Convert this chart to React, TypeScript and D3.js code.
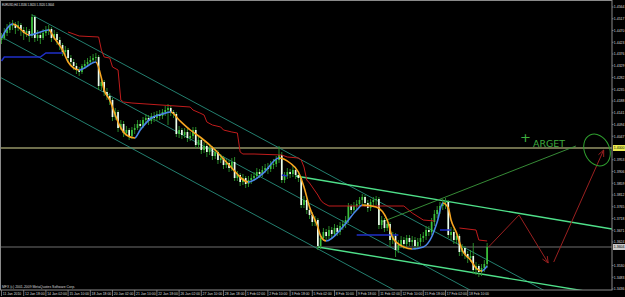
import React from 'react';
import * as d3 from 'd3';

// ---------------- data ----------------
const chartTitle = 'EURUSD,H4  1.3536 1.3620 1.3520 1.3604';
const copyrightText = 'MFX (c) 2001-2009 MetaQuotes Software Corp.';

const firstOpen = 1.4432;
const close = [
  1.4440,1.4460,1.4472,1.4488,1.4496,1.4480,1.4492,1.4472,1.4460,1.4468,
  1.4448,1.4524,1.4440,1.4452,1.4440,1.4460,1.4472,1.4476,1.4440,1.4456,
  1.4432,1.4412,1.4384,1.4392,1.4360,1.4344,1.4328,1.4312,1.4304,1.4328,
  1.4336,1.4344,1.4352,1.4360,1.4364,1.4248,1.4264,1.4224,1.4208,1.4192,
  1.4124,1.4144,1.4080,1.4096,1.4060,1.4072,1.4048,1.4072,1.4080,1.4096,
  1.4088,1.4112,1.4120,1.4108,1.4128,1.4120,1.4136,1.4128,1.4144,1.4152,
  1.4160,1.4144,1.4136,1.4056,1.4072,1.4052,1.4064,1.4040,1.4048,1.4072,
  1.4012,1.4032,1.3992,1.4008,1.3984,1.4000,1.3968,1.3984,1.3952,1.3960,
  1.3932,1.3940,1.3920,1.3944,1.3880,1.3892,1.3864,1.3880,1.3856,1.3872,
  1.3880,1.3888,1.3904,1.3896,1.3912,1.3920,1.3916,1.3932,1.3936,1.3952,
  1.3972,1.3872,1.3888,1.3904,1.3896,1.3912,1.3892,1.3880,1.3772,1.3792,
  1.3752,1.3732,1.3704,1.3712,1.3608,1.3640,1.3664,1.3648,1.3672,1.3656,
  1.3680,1.3664,1.3688,1.3696,1.3712,1.3768,1.3752,1.3768,1.3776,1.3792,
  1.3804,1.3780,1.3760,1.3784,1.3792,1.3796,1.3692,1.3712,1.3680,1.3696,
  1.3632,1.3648,1.3592,1.3612,1.3632,1.3616,1.3640,1.3624,1.3632,1.3608,
  1.3624,1.3640,1.3648,1.3672,1.3664,1.3704,1.3736,1.3752,1.3768,1.3780,
  1.3784,1.3652,1.3664,1.3632,1.3648,1.3584,1.3600,1.3576,1.3560,1.3568,
  1.3512,1.3528,1.3504,1.3520,1.3536,1.3604,
];
const high = [
  1.4460,1.4480,1.4496,1.4504,1.4512,1.4504,1.4508,1.4500,1.4484,1.4484,
  1.4476,1.4536,1.4532,1.4472,1.4464,1.4476,1.4488,1.4492,1.4484,1.4472,
  1.4464,1.4444,1.4420,1.4408,1.4400,1.4372,1.4356,1.4340,1.4324,1.4336,
  1.4352,1.4360,1.4368,1.4376,1.4380,1.4372,1.4280,1.4272,1.4240,1.4220,
  1.4200,1.4160,1.4152,1.4112,1.4108,1.4088,1.4080,1.4084,1.4096,1.4112,
  1.4112,1.4124,1.4136,1.4132,1.4140,1.4144,1.4148,1.4152,1.4156,1.4168,
  1.4176,1.4168,1.4152,1.4144,1.4088,1.4080,1.4080,1.4076,1.4064,1.4084,
  1.4084,1.4048,1.4040,1.4024,1.4016,1.4016,1.4008,1.4000,1.3992,1.3976,
  1.3968,1.3956,1.3952,1.3960,1.3964,1.3908,1.3900,1.3896,1.3888,1.3888,
  1.3896,1.3904,1.3920,1.3916,1.3928,1.3936,1.3940,1.3948,1.3956,1.3968,
  1.4008,1.3984,1.3904,1.3920,1.3916,1.3928,1.3920,1.3904,1.3888,1.3808,
  1.3800,1.3768,1.3744,1.3728,1.3720,1.3656,1.3680,1.3676,1.3688,1.3684,
  1.3696,1.3692,1.3704,1.3712,1.3728,1.3780,1.3776,1.3784,1.3792,1.3804,
  1.3816,1.3812,1.3792,1.3796,1.3804,1.3808,1.3804,1.3728,1.3720,1.3712,
  1.3704,1.3664,1.3660,1.3632,1.3648,1.3644,1.3652,1.3652,1.3648,1.3644,
  1.3640,1.3656,1.3664,1.3688,1.3688,1.3720,1.3752,1.3768,1.3784,1.3796,
  1.3800,1.3792,1.3684,1.3676,1.3664,1.3656,1.3616,1.3608,1.3588,1.3592,
  1.3620,1.3544,1.3536,1.3536,1.3552,1.3620,
];
const low = [
  1.4416,1.4432,1.4448,1.4460,1.4472,1.4456,1.4468,1.4448,1.4432,1.4444,
  1.4424,1.4440,1.4424,1.4428,1.4416,1.4432,1.4448,1.4452,1.4424,1.4432,
  1.4412,1.4392,1.4368,1.4372,1.4344,1.4328,1.4312,1.4296,1.4288,1.4296,
  1.4316,1.4324,1.4332,1.4340,1.4348,1.4232,1.4232,1.4208,1.4192,1.4172,
  1.4108,1.4112,1.4064,1.4072,1.4044,1.4048,1.4032,1.4036,1.4056,1.4072,
  1.4072,1.4080,1.4100,1.4092,1.4096,1.4104,1.4108,1.4112,1.4116,1.4128,
  1.4092,1.4128,1.4120,1.4044,1.4040,1.4036,1.4040,1.4024,1.4028,1.4036,
  1.4000,1.4000,1.3976,1.3980,1.3964,1.3972,1.3952,1.3956,1.3936,1.3940,
  1.3916,1.3920,1.3904,1.3908,1.3868,1.3868,1.3848,1.3852,1.3840,1.3844,
  1.3856,1.3868,1.3876,1.3880,1.3884,1.3900,1.3896,1.3904,1.3916,1.3924,
  1.3940,1.3860,1.3860,1.3876,1.3880,1.3884,1.3876,1.3864,1.3760,1.3760,
  1.3736,1.3716,1.3688,1.3688,1.3592,1.3596,1.3628,1.3632,1.3636,1.3640,
  1.3644,1.3648,1.3652,1.3672,1.3680,1.3700,1.3736,1.3740,1.3752,1.3764,
  1.3776,1.3764,1.3744,1.3748,1.3768,1.3772,1.3676,1.3676,1.3664,1.3668,
  1.3604,1.3616,1.3564,1.3580,1.3600,1.3596,1.3604,1.3608,1.3608,1.3592,
  1.3596,1.3608,1.3624,1.3632,1.3648,1.3652,1.3688,1.3720,1.3736,1.3752,
  1.3756,1.3640,1.3632,1.3616,1.3616,1.3568,1.3568,1.3556,1.3540,1.3544,
  1.3496,1.3492,1.3484,1.3488,1.3504,1.3520,
];

const timeLabels = [
  '11 Jan 2010','12 Jan 18:00','14 Jan 02:00','15 Jan 10:00','18 Jan 18:00','20 Jan 02:00',
  '21 Jan 10:00','22 Jan 18:00','26 Jan 02:00','27 Jan 10:00','28 Jan 18:00','1 Feb 02:00',
  '2 Feb 10:00','3 Feb 18:00','5 Feb 02:00','8 Feb 10:00','9 Feb 18:00','11 Feb 02:00',
  '12 Feb 10:00','15 Feb 18:00','17 Feb 02:00','18 Feb 10:00',
];
const barsPerTimeLabel = 8;

const priceLabels = [
  1.4564,1.4517,1.4470,1.4423,1.4376,1.4329,1.4282,1.4235,1.4188,1.4141,1.4094,1.4047,
  1.3953,1.3906,1.3859,1.3812,1.3765,1.3718,1.3671,1.3624,1.3530,1.3483,1.3436,
];
const targetLevel = 1.4000;
const bidPrice = 1.3604;

// smoothed moving average (bar index, price)
const maPoints: [number, number][] = [
  [0,1.4440],[4,1.4496],[10,1.4452],[17,1.4472],[19,1.4440],[22,1.4392],[24,1.4344],[26,1.4320],
  [28,1.4312],[34,1.4344],[36,1.4280],[37,1.4232],[39,1.4192],[41,1.4132],[43,1.4080],[45,1.4052],
  [48,1.4040],[50,1.4072],[54,1.4120],[58,1.4136],[61,1.4144],[64,1.4112],[68,1.4072],[72,1.4040],
  [77,1.3992],[82,1.3932],[89,1.3864],[94,1.3896],[100,1.3960],[104,1.3940],[107,1.3904],[109,1.3844],
  [111,1.3764],[114,1.3684],[115,1.3648],[117,1.3628],[123,1.3684],[128,1.3752],[130,1.3772],[135,1.3764],
  [139,1.3712],[141,1.3640],[145,1.3604],[148,1.3596],[152,1.3604],[155,1.3644],[157,1.3704],[159,1.3780],
  [161,1.3760],[162,1.3712],[164,1.3660],[166,1.3592],[169,1.3552],[171,1.3520],[173,1.3508],[175,1.3528],
];

// upper stop line (red)
const redSegments: [number, number][][] = [
  [[24,1.4464],[28,1.4448],[35,1.4444],[36,1.4392],[37,1.4364],[39,1.4360],[40,1.4324],[42,1.4312],
   [43,1.4192],[44,1.4184],[47,1.4180],[68,1.4164],[69,1.4152],[71.5,1.4140],[73,1.4132],[74,1.4104],
   [76,1.4092],[79,1.4084],[80,1.4072],[83,1.4064],[85,1.4060],[86,1.3984],[87,1.3976],[91,1.3976],
   [101,1.3972],[103,1.3964],[107,1.3960],[108,1.3952],[109,1.3924],[110,1.3872],[111,1.3860],[114,1.3812],
   [115,1.3792],[116,1.3780],[118,1.3768],[145,1.3768],[148,1.3740],[152,1.3712],[156,1.3708]],
  [[165,1.3680],[171,1.3672],[172,1.3632],[175,1.3628]],
];
// lower stop line (dark blue)
const blueSegments: [number, number][][] = [
  [[0,1.4348],[1,1.4364],[14,1.4364],[16,1.4380],[22,1.4380]],
  [[101,1.3892],[103,1.3888]],
  [[128,1.3652],[143,1.3652]],
  [[158,1.3672],[162,1.3672]],
];

// channel lines: [bar1, price1, bar2, price2]
const channelLines: [number, number, number, number][] = [
  [11, 1.4532, 220, 1.3284],
  [-1, 1.4450, 220, 1.3125],
  [-1, 1.4286, 220, 1.2961],
];
const trendLines: [number, number, number, number][] = [
  [106, 1.3888, 220, 1.3676],
  [114, 1.3604, 220, 1.3410],
];
const targetRay: [number, number, number, number] = [137, 1.3704, 207, 1.4008];
const forecastLegs: [number, number][][] = [
  [[175.5,1.3604],[186.5,1.3732],[197,1.3540]],
  [[199,1.3544],[217,1.3992]],
];
const targetCircleCenter: [number, number] = [214.6, 1.3992];
const noteMark = '+';
const noteText = 'ARGET';
const noteAnchor: [number, number] = [186.5, 1.4020];

// ---------------- chart ----------------
const W = 625;
const H = 297;
const PLOT_R = 612;
const PLOT_B = 290;

const BLUE = '#4a86e8';
const ORANGE = '#f7a520';

function arrowHead(x1: number, y1: number, x2: number, y2: number, len = 7, ang = 0.42) {
  const a = Math.atan2(y2 - y1, x2 - x1);
  return `M${x2 - len * Math.cos(a - ang)},${y2 - len * Math.sin(a - ang)}L${x2},${y2}L${x2 - len * Math.cos(a + ang)},${y2 - len * Math.sin(a + ang)}`;
}

export default function App() {
  const x = d3.scaleLinear().domain([0, 220]).range([1.5, PLOT_R]);
  const y = d3.scaleLinear().domain([1.4592, 1.3404]).range([0, 297]);
  const open = close.map((_, i) => (i === 0 ? firstOpen : close[i - 1]));

  const line = d3.line<[number, number]>().x(d => x(d[0])).y(d => y(d[1]));
  const maLine = d3.line<[number, number]>().x(d => x(d[0])).y(d => y(d[1])).curve(d3.curveMonotoneX);

  const stops: { off: number; c: string }[] = [];
  for (let j = 0; j < maPoints.length - 1; j++) {
    const c = maPoints[j + 1][1] >= maPoints[j][1] ? BLUE : ORANGE;
    stops.push({ off: x(maPoints[j][0]) / W, c }, { off: x(maPoints[j + 1][0]) / W, c });
  }

  const fmt = d3.format('.4f');
  const bw = 1.7;
  const axisFont = 'Liberation Sans, Arial, sans-serif';
  const noteFont = 'DejaVu Sans, sans-serif';

  return (
    <svg width={W} height={H} style={{ position: 'fixed', left: 0, top: 0, background: '#000' }}>
      <defs>
        <clipPath id="plot">
          <rect x={0} y={0} width={PLOT_R} height={PLOT_B} />
        </clipPath>
        <linearGradient id="maGrad" gradientUnits="userSpaceOnUse" x1={0} y1={0} x2={W} y2={0}>
          {stops.map((s, k) => (
            <stop key={k} offset={s.off} stopColor={s.c} />
          ))}
        </linearGradient>
      </defs>
      <rect x={0} y={0} width={W} height={H} fill="#000" />

      <g clipPath="url(#plot)">
        {/* horizontal level lines */}
        <line x1={0} x2={PLOT_R} y1={y(targetLevel)} y2={y(targetLevel)} stroke="#dcdc98" strokeWidth={1} />
        <line x1={0} x2={PLOT_R} y1={y(bidPrice)} y2={y(bidPrice)} stroke="#6e6e6e" strokeWidth={1} />

        {/* channel lines */}
        {channelLines.map((l, k) => (
          <line key={k} x1={x(l[0])} y1={y(l[1])} x2={x(l[2])} y2={y(l[3])} stroke="#2c9f8c" strokeWidth={0.8} />
        ))}
        {/* trend lines */}
        {trendLines.map((l, k) => (
          <line key={k} x1={x(l[0])} y1={y(l[1])} x2={x(l[2])} y2={y(l[3])} stroke="#4fe08a" strokeWidth={1.4} />
        ))}
        <line x1={x(targetRay[0])} y1={y(targetRay[1])} x2={x(targetRay[2])} y2={y(targetRay[3])} stroke="#3c9a3c" strokeWidth={0.9} />

        {/* candles */}
        {close.map((c, i) => {
          const o = open[i];
          const bull = c >= o;
          const top = y(Math.max(o, c));
          const bot = y(Math.min(o, c));
          return (
            <g key={i}>
              <line x1={x(i)} x2={x(i)} y1={y(high[i])} y2={y(low[i])} stroke="#2e962e" strokeWidth={0.9} />
              <rect
                x={x(i) - bw / 2}
                y={top}
                width={bw}
                height={Math.max(0.8, bot - top)}
                fill={bull ? '#3cc03c' : '#eefdee'}
              />
            </g>
          );
        })}

        {/* stop lines */}
        {redSegments.map((s, k) => (
          <path key={k} d={line(s) || ''} fill="none" stroke="#c01c1c" strokeWidth={1} />
        ))}
        {blueSegments.map((s, k) => (
          <path key={k} d={line(s) || ''} fill="none" stroke="#1f2fc8" strokeWidth={1.5} />
        ))}

        {/* smoothed MA */}
        <path d={maLine(maPoints) || ''} fill="none" stroke="url(#maGrad)" strokeWidth={1.6} strokeLinejoin="round" />

        {/* hand drawn forecast */}
        {forecastLegs.map((leg, k) => {
          const n = leg.length;
          const a = leg[n - 2];
          const b = leg[n - 1];
          return (
            <g key={k} stroke="#9a2020" strokeWidth={1} fill="none">
              <path d={line(leg) || ''} />
              <path d={arrowHead(x(a[0]), y(a[1]), x(b[0]), y(b[1]))} />
            </g>
          );
        })}
        <ellipse
          cx={x(targetCircleCenter[0])}
          cy={y(targetCircleCenter[1])}
          rx={12.5}
          ry={16.5}
          transform={`rotate(-25 ${x(targetCircleCenter[0])} ${y(targetCircleCenter[1])})`}
          fill="none"
          stroke="#2f9f2f"
          strokeWidth={1}
        />
        <text x={x(noteAnchor[0]) + 1} y={y(noteAnchor[1]) - 1} fill="#3fae3f" fontSize={13} fontFamily={noteFont}>
          {noteMark}
        </text>
        <text
          x={x(noteAnchor[0]) + 14}
          y={y(noteAnchor[1]) + 4}
          fill="#3fae3f"
          fontSize={9}
          fontFamily={noteFont}
          textLength={32}
          lengthAdjust="spacingAndGlyphs"
        >
          {noteText}
        </text>

        <text x={2} y={6} fill="#e8e8e8" fontSize={3} fontFamily={axisFont} textLength={52} lengthAdjust="spacingAndGlyphs">
          {chartTitle}
        </text>
        <text x={2} y={288} fill="#d8d8d8" fontSize={3.4} fontFamily={axisFont} textLength={73} lengthAdjust="spacingAndGlyphs">
          {copyrightText}
        </text>
      </g>

      {/* frame */}
      <rect x={0.5} y={0.5} width={PLOT_R - 0.5} height={PLOT_B - 0.5} fill="none" stroke="#8a8a8a" strokeWidth={1} />

      {/* price axis */}
      {priceLabels.map((p, k) => (
        <g key={k}>
          <line x1={PLOT_R} x2={PLOT_R + 1.5} y1={y(p)} y2={y(p)} stroke="#8a8a8a" strokeWidth={0.8} />
          <text x={PLOT_R + 1.8} y={y(p) + 1.3} fill="#dcdcdc" fontSize={3.5} fontFamily={axisFont}>
            {fmt(p)}
          </text>
        </g>
      ))}
      <rect x={PLOT_R + 1} y={y(targetLevel) - 3} width={12} height={6} fill="#eaea50" />
      <text x={PLOT_R + 1.8} y={y(targetLevel) + 1.3} fill="#000" fontSize={3.5} fontFamily={axisFont}>
        {fmt(targetLevel)}
      </text>
      <rect x={PLOT_R + 1} y={y(bidPrice) - 3} width={12} height={6} fill="#c8c8c8" />
      <text x={PLOT_R + 1.8} y={y(bidPrice) + 1.3} fill="#000" fontSize={3.5} fontFamily={axisFont}>
        {fmt(bidPrice)}
      </text>

      {/* time axis */}
      {timeLabels.map((t, k) => {
        const xx = x(k * barsPerTimeLabel);
        return (
          <g key={k}>
            <line x1={xx} x2={xx} y1={PLOT_B} y2={PLOT_B + 6} stroke="#8a8a8a" strokeWidth={0.8} />
            <text x={xx + 1.3} y={PLOT_B + 5} fill="#dcdcdc" fontSize={3.4} fontFamily={axisFont}>
              {t}
            </text>
          </g>
        );
      })}
    </svg>
  );
}
